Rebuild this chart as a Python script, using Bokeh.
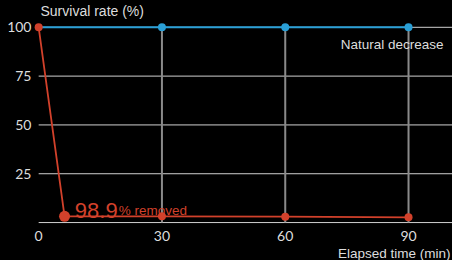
from bokeh.plotting import figure
from bokeh.models import Label, Range1d, FixedTicker, Title, InlineStyleSheet
from bokeh.embed import file_html
from bokeh.resources import INLINE

# Data
time_natural = [0, 30, 60, 90]
natural = [100, 100, 100, 100]
time_removed = [0, 6.3, 30, 60, 90]
removed = [100, 3.2, 3.2, 3.0, 2.7]
x_ticks = [0, 30, 60, 90]
y_ticks = [25, 50, 75, 100]
h_grid = [0, 25, 50, 75, 100]
v_grid = [30, 60, 90]

X_START, X_END = -1.5, 100.7
Y_START, Y_END = -1, 104

TXT = "#dddddd"
RED = "#d2412b"
BLUE = "#2a9fd6"

p = figure(width=452, height=260, output_backend="svg", toolbar_location=None,
           x_range=Range1d(X_START, X_END), y_range=Range1d(Y_START, Y_END),
           min_border_left=32, min_border_right=0, min_border_top=19, min_border_bottom=36)
p.stylesheets = [InlineStyleSheet(css=":host { background-color: black; }")]
p.background_fill_color = "black"
p.border_fill_color = "black"
p.outline_line_color = None
p.xgrid.visible = False
p.ygrid.visible = False

p.title.text = "Survival rate (%)"
p.title.text_font = "Liberation Sans"
p.title.text_font_size = "14px"
p.title.text_font_style = "normal"
p.title.text_color = TXT
p.title.align = "left"
p.title.offset = 8
p.title.standoff = 1

for ax in (p.xaxis[0], p.yaxis[0]):
    ax.axis_line_color = None
    ax.major_tick_line_color = None
    ax.minor_tick_line_color = None
    ax.major_tick_out = 0
    ax.major_tick_in = 0
    ax.minor_tick_out = 0
    ax.minor_tick_in = 0
    ax.major_label_text_color = TXT
    ax.major_label_text_font = "Lato"
    ax.major_label_text_font_size = "14px"
p.xaxis.ticker = FixedTicker(ticks=x_ticks)
p.yaxis.ticker = FixedTicker(ticks=y_ticks)
p.xaxis.major_label_standoff = 6
p.yaxis.major_label_standoff = 1

p.add_layout(Title(text="Elapsed time (min)", align="right", text_font="Liberation Sans",
                   text_font_size="13.5px", text_font_style="normal", text_color=TXT,
                   standoff=0, offset=2), "below")

# grid lines
p.segment(x0=[0] * len(h_grid), y0=h_grid, x1=[X_END] * len(h_grid), y1=h_grid,
          line_color="#d0d0d0", line_width=1)
p.segment(x0=v_grid, y0=[0] * len(v_grid), x1=v_grid, y1=[100] * len(v_grid),
          line_color="#8a8a8a", line_width=2)

# natural decrease (blue)
p.line(time_natural, natural, line_color=BLUE, line_width=2)
p.scatter(time_natural[1:], natural[1:], size=8, fill_color=BLUE, line_color=None)

# removed (red)
p.line(time_removed, removed, line_color=RED, line_width=1.8)
p.scatter(time_removed, removed, size=[8, 11, 8, 8, 8], fill_color=RED, line_color=None)

p.add_layout(Label(x=73.5, y=91.2, text="Natural decrease", text_font="Liberation Sans",
                   text_font_size="13.5px", text_color=TXT, text_baseline="middle"))
p.add_layout(Label(x=8.8, y=6.2, text="98.9", text_font="Liberation Sans",
                   text_font_size="22px", text_color=RED, text_baseline="alphabetic"))
p.add_layout(Label(x=19.5, y=6.2, text="% removed", text_font="Liberation Sans",
                   text_font_size="13.5px", text_color=RED, text_baseline="alphabetic"))

open("out.html", "w").write(file_html(p, INLINE))
